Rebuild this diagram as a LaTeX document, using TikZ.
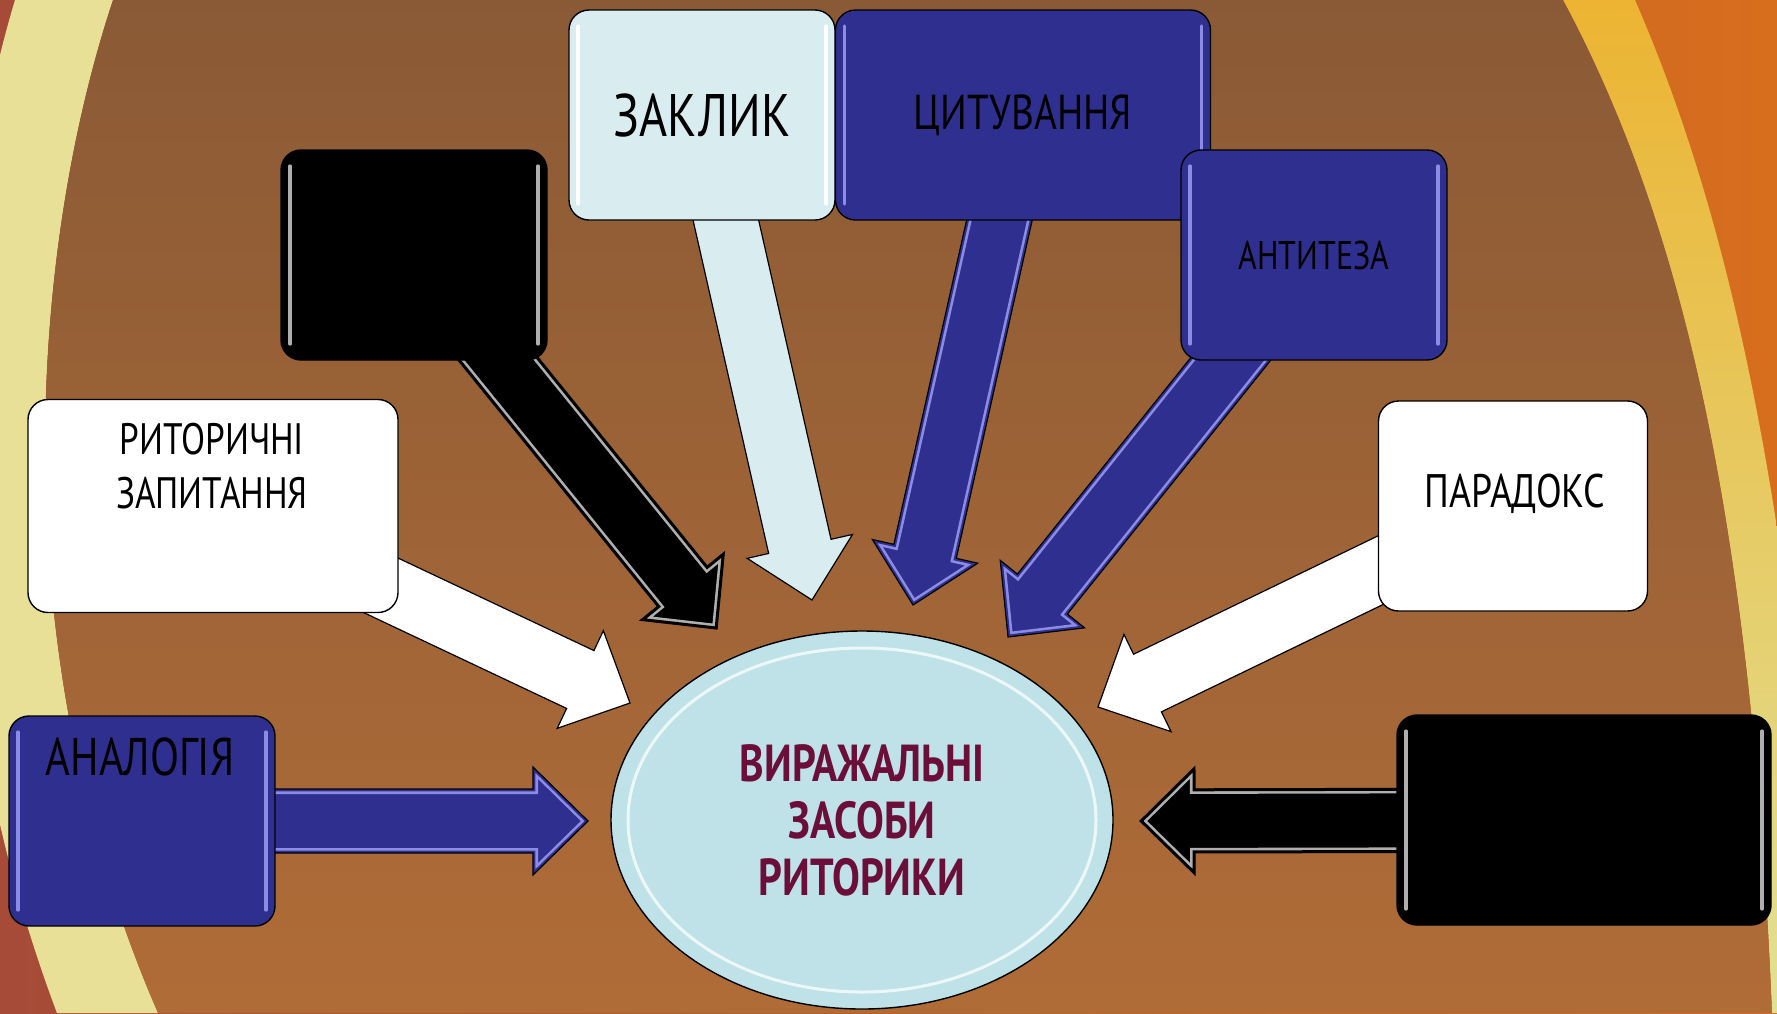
\documentclass[tikz,border=0pt]{standalone}
\usepackage{fontspec}
\usepackage{tikz}
\usetikzlibrary{calc,positioning,shapes.geometric}
\newfontfamily\rzfont[FakeStretch=0.8]{PT Sans}
\newcommand{\rzhand}[2]{\rzfont\fontsize{#1}{#2}\selectfont}
\definecolor{rzBlue}{RGB}{47,47,143}
\definecolor{rzBlueHi}{RGB}{140,140,228}
\definecolor{rzPale}{RGB}{217,236,240}
\definecolor{rzCore}{RGB}{190,226,231}
\definecolor{rzWine}{RGB}{107,14,58}
\definecolor{rzBrown}{RGB}{176,108,55}
\definecolor{rzBrownDk}{RGB}{138,90,54}
\definecolor{rzCream}{RGB}{232,224,150}
\definecolor{rzGold}{RGB}{236,180,50}
\definecolor{rzPaleGold}{RGB}{225,225,150}
\definecolor{rzRust}{RGB}{165,75,55}
\definecolor{rzOrange}{RGB}{215,110,30}
\definecolor{rzGrey}{RGB}{175,175,175}
\pgfdeclarelayer{rzback}
\pgfdeclarelayer{rzmid}
\pgfsetlayers{rzback,rzmid,main}
\tikzset{
  rzbox/.style={rectangle, rounded corners=10pt, draw=black, line width=0.7pt, minimum width=133pt, minimum height=105pt, inner sep=0pt, align=center},
  rzglint/.style={path picture={
    \draw[#1, line width=1.6pt, line cap=round] ([xshift=4.5pt,yshift=-8pt]path picture bounding box.north west) -- ([xshift=4.5pt,yshift=8pt]path picture bounding box.south west);
    \draw[#1, line width=1.6pt, line cap=round] ([xshift=-4.5pt,yshift=-8pt]path picture bounding box.north east) -- ([xshift=-4.5pt,yshift=8pt]path picture bounding box.south east);}},
  rzblue/.style={rzbox, fill=rzBlue, rzglint=rzBlueHi},
  rzblack/.style={rzbox, fill=black, rzglint=rzGrey},
  rzwhite/.style={rzbox, fill=white},
  rzpale/.style={rzbox, fill=rzPale, rzglint=white},
  rzcore/.style={ellipse, draw=black, line width=0.7pt, fill=rzCore, minimum width=251pt, minimum height=189pt, inner sep=0pt, align=center, text=rzWine},
  rzlabel/.style={align=center, text=black, inner sep=0pt},
  rzarr/.style={draw=black, line width=0.6pt, line join=miter, fill=#1},
  rzbevel/.style 2 args={path picture={
    \draw[#1, line width=5pt] (rz1) -- (rz2) -- (rz3) -- (rzt) -- (rz4) -- (rz5) -- (rz6) -- cycle;
    \draw[#2, line width=2.4pt] (rz1) -- (rz2) -- (rz3) -- (rzt) -- (rz4) -- (rz5) -- (rz6) -- cycle;}},
}
\newcommand{\rzarrow}[3]{
  \path (#2.center) coordinate (rzs) (#3) coordinate (rzt);
  \path ($(rzt)!27.5pt!(rzs)$) coordinate (rzh);
  \path ($(rzs)!16pt!90:(rzt)$) coordinate (rz1)
        ($(rzh)!16pt!-90:(rzs)$) coordinate (rz2)
        ($(rzh)!27pt!-90:(rzs)$) coordinate (rz3)
        ($(rzh)!27pt!90:(rzs)$) coordinate (rz4)
        ($(rzh)!16pt!90:(rzs)$) coordinate (rz5)
        ($(rzs)!16pt!-90:(rzt)$) coordinate (rz6);
  \draw[#1] (rz1) -- (rz2) -- (rz3) -- (rzt) -- (rz4) -- (rz5) -- (rz6) -- cycle;
}
\begin{document}
\begin{tikzpicture}[x=0.5pt,y=-0.5pt]
\useasboundingbox (0,0) rectangle (1777,1013);
\begin{pgfonlayer}{rzback}
\clip (0,0) rectangle (1777,1013);
\fill[left color=rzRust, right color=rzOrange] (0,0) rectangle (1777,1013);
\fill[rzCream] (15,0) .. controls (-60,250) and (-80,650) .. (57,1013) -- (158,1013) .. controls (0,650) and (30,250) .. (113,0) -- cycle;
\shade[top color=rzGold, bottom color=rzPaleGold] (1563,0) .. controls (1670,200) and (1750,480) .. (1772,1013) -- (1850,1013) -- (1800,700) .. controls (1760,350) and (1700,150) .. (1635,0) -- cycle;
\shade[top color=rzBrownDk, bottom color=rzBrown] (113,0) .. controls (30,250) and (0,650) .. (158,1013) -- (1772,1013) .. controls (1750,480) and (1670,200) .. (1563,0) -- cycle;
\end{pgfonlayer}

\node[rzblack] (blacka) at (414,255) {};
\node[rzwhite, minimum width=185pt, minimum height=106.5pt] (ritor) at (213,506) {};
\node[rzlabel, font={\rzhand{22}{27}}] (ritorlbl) at (212,466) {РИТОРИЧНІ\\ЗАПИТАННЯ};
\node[rzblue] (analog) at (142,821) {};
\node[rzlabel, font={\rzhand{26.5}{30}}] (analoglbl) at (140,757) {АНАЛОГІЯ};
\node[rzpale, font={\rzhand{30}{34}}] (zaklyk) at (702,115) {ЗАКЛИК};
\node[rzblue, minimum width=187.5pt, font={\rzhand{24.5}{28}}] (tsyt) at (1023,115) {ЦИТУВАННЯ};
\node[rzblue, font={\rzhand{20}{24}}] (antyt) at (1314,255) {АНТИТЕЗА};
\node[rzwhite, minimum width=134.5pt] (parad) at (1513,506) {};
\node[rzlabel, font={\rzhand{23.5}{27}}] (paradlbl) at (1515,494) {ПАРАДОКС};
\node[rzblack, minimum width=187pt] (blackb) at (1584,820) {};
\node[rzcore, font={\rzhand{26}{28.5}\bfseries}] (core) at (862,820) {ВИРАЖАЛЬНІ\\ЗАСОБИ\\РИТОРИКИ};
\draw[white, line width=1.5pt, opacity=0.75] (core.center) ellipse [x radius=117pt, y radius=86pt];

\coordinate (tipblacka) at (717,629);
\coordinate (tipzaklyk) at (812,600);
\coordinate (tiptsyt) at (913,605);
\coordinate (tipantyt) at (1008,637);
\coordinate (tipparad) at (1098,707);
\coordinate (tipblackb) at (1140,821);
\coordinate (tipanalog) at (588,821);
\coordinate (tipritor) at (630,703);

\begin{pgfonlayer}{rzmid}
\rzarrow{rzarr=black, rzbevel={rzGrey}{black}}{blacka}{tipblacka}
\rzarrow{rzarr=rzPale}{zaklyk}{tipzaklyk}
\rzarrow{rzarr=rzBlue, rzbevel={rzBlueHi}{rzBlue}}{tsyt}{tiptsyt}
\rzarrow{rzarr=rzBlue, rzbevel={rzBlueHi}{rzBlue}}{antyt}{tipantyt}
\rzarrow{rzarr=white}{parad}{tipparad}
\rzarrow{rzarr=black, rzbevel={rzGrey}{black}}{blackb}{tipblackb}
\rzarrow{rzarr=rzBlue, rzbevel={rzBlueHi}{rzBlue}}{analog}{tipanalog}
\rzarrow{rzarr=white}{ritor}{tipritor}
\end{pgfonlayer}
\end{tikzpicture}
\end{document}
